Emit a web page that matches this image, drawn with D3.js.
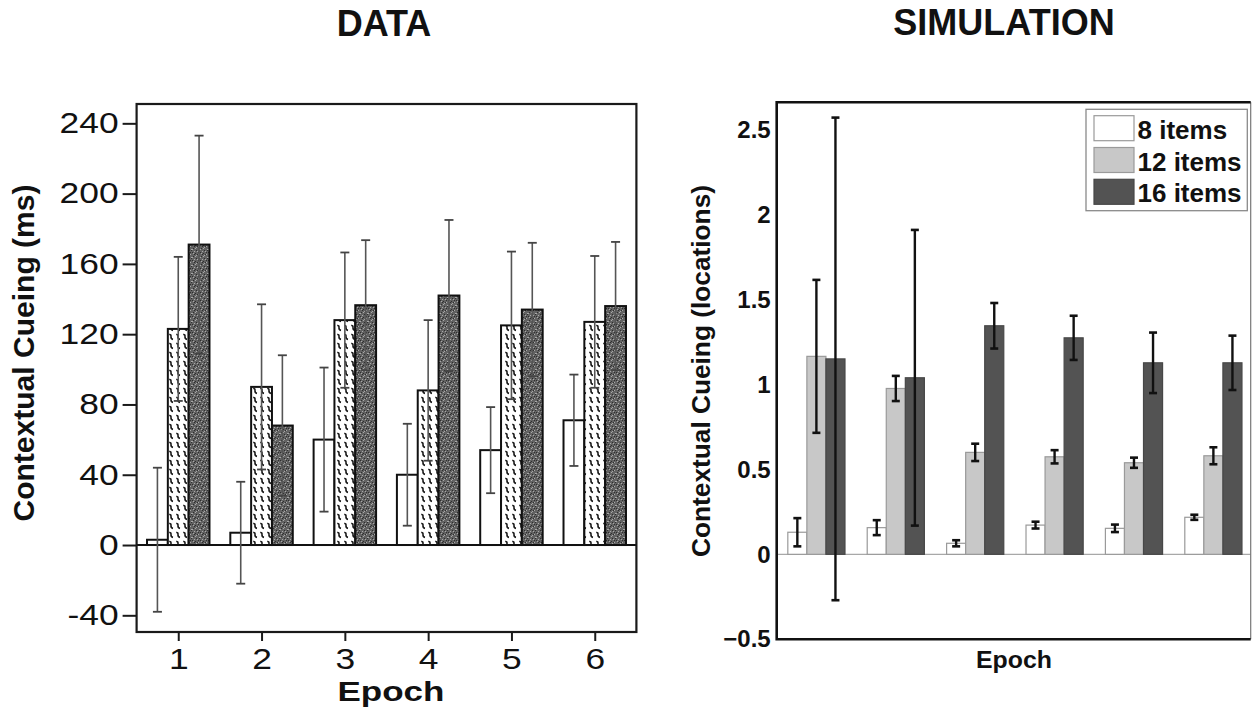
<!DOCTYPE html>
<html>
<head>
<meta charset="utf-8">
<script src="https://cdn.jsdelivr.net/npm/d3@7"></script>
<style>
  html, body { margin: 0; padding: 0; background: #fff; }
  svg { display: block; }
  text { font-family: "Liberation Sans", Arial, Helvetica, sans-serif; fill: #111; }
</style>
</head>
<body>
<svg id="chart" width="1252" height="710"></svg>
<script>
// ---------------- data ----------------
const epochs = [1, 2, 3, 4, 5, 6];
const seriesNames = ["8 items", "12 items", "16 items"];

// DATA panel (ms)
const dataTicks = [-40, 0, 40, 80, 120, 160, 200, 240];
const dataTickLabels = ["-40", "0", "40", "80", "120", "160", "200", "240"];
const data8 = [3, 7, 60, 40, 54, 71];
const data8Err = [41, 29, 41, 29, 24.5, 26];
const data12 = [123, 90, 128, 88, 125, 127];
const data12Err = [41, 47, 38.5, 40, 42, 37.5];
const data16 = [171, 68, 136.5, 142, 134, 136];
const data16Err = [62, 40, 37, 43, 38, 36.5];

// SIMULATION panel (locations)
const simTicks = [-0.5, 0, 0.5, 1, 1.5, 2, 2.5];
const simTickLabels = ["\u22120.5", "0", "0.5", "1", "1.5", "2", "2.5"];
const sim8 = [0.13, 0.157, 0.065, 0.172, 0.153, 0.218];
const sim8Err = [0.083, 0.044, 0.018, 0.02, 0.022, 0.015];
const sim12 = [1.165, 0.976, 0.60, 0.574, 0.539, 0.58];
const sim12Err = [0.45, 0.074, 0.051, 0.039, 0.03, 0.05];
const sim16 = [1.15, 1.039, 1.345, 1.274, 1.127, 1.127];
const sim16Err = [1.42, 0.87, 0.134, 0.13, 0.178, 0.16];

const svg = d3.select("#chart");

function stretch(sel, k) {
  sel.each(function () {
    const L = this.getComputedTextLength();
    this.setAttribute("textLength", L * k);
    this.setAttribute("lengthAdjust", "spacingAndGlyphs");
  });
}

// ---------------- patterns ----------------
const defs = svg.append("defs");
const zig = defs.append("pattern").attr("id", "zig")
  .attr("patternUnits", "userSpaceOnUse").attr("width", 7).attr("height", 9);
zig.append("rect").attr("width", 7).attr("height", 9).attr("fill", "#fff");
zig.append("path").attr("d", "M1.2,1.5 Q3.2,1.2 3,3.6 Q2.8,6 5,6.4")
  .attr("fill", "none").attr("stroke", "#1a1a1a").attr("stroke-width", 1.6);

const stip = defs.append("pattern").attr("id", "stip")
  .attr("patternUnits", "userSpaceOnUse").attr("width", 8).attr("height", 8);
stip.append("rect").attr("width", 8).attr("height", 8).attr("fill", "#626262");
const lightSpecks = [[0,1],[3,0],[5,3],[1,5],[6,6],[2,3],[7,1],[4,7]];
const darkSpecks = [[1,0],[4,2],[6,4],[2,6],[0,4],[5,6],[7,2],[3,5]];
lightSpecks.forEach(p => stip.append("rect").attr("x", p[0]).attr("y", p[1])
  .attr("width", 1).attr("height", 1).attr("fill", "#a8a8a8"));
darkSpecks.forEach(p => stip.append("rect").attr("x", p[0]).attr("y", p[1])
  .attr("width", 1).attr("height", 1).attr("fill", "#2e2e2e"));

// ---------------- titles ----------------
svg.append("text").attr("x", 384).attr("y", 36).attr("text-anchor", "middle")
  .attr("font-size", 36).attr("font-weight", "bold").text("DATA");
svg.append("text").attr("x", 1004).attr("y", 35).attr("text-anchor", "middle")
  .attr("font-size", 36).attr("font-weight", "bold").text("SIMULATION");

// ================= LEFT: DATA =================
const xL = d3.scaleLinear().domain([0.5, 6.5]).range([136.6, 636.4]);
const yL = d3.scaleLinear().domain([-49.5, 251]).range([632, 104]);
const bwL = xL(0.25) - xL(0);
const leftSeries = [
  { vals: data8, errs: data8Err, fill: "#fff" },
  { vals: data12, errs: data12Err, fill: "url(#zig)" },
  { vals: data16, errs: data16Err, fill: "url(#stip)" }
];
const gL = svg.append("g");

leftSeries.forEach((s, si) => {
  gL.selectAll(null).data(epochs).enter().append("rect")
    .attr("x", (e) => xL(e) + (si - 1.5) * bwL)
    .attr("width", bwL)
    .attr("y", (e, i) => yL(Math.max(0, s.vals[i])))
    .attr("height", (e, i) => Math.abs(yL(s.vals[i]) - yL(0)))
    .attr("fill", s.fill).attr("stroke", "#111").attr("stroke-width", 2);
});
// zero line
gL.append("line").attr("x1", xL(0.5)).attr("x2", xL(6.5))
  .attr("y1", yL(0)).attr("y2", yL(0)).attr("stroke", "#111").attr("stroke-width", 2);
// error bars
leftSeries.forEach((s, si) => {
  epochs.forEach((e, i) => {
    const cx = xL(e) + (si - 1) * bwL;
    const y1 = yL(s.vals[i] - s.errs[i]), y2 = yL(s.vals[i] + s.errs[i]);
    gL.append("line").attr("x1", cx).attr("x2", cx).attr("y1", y1).attr("y2", y2)
      .attr("stroke", "#555").attr("stroke-width", 1.6);
    [y1, y2].forEach(y => gL.append("line").attr("x1", cx - 4.5).attr("x2", cx + 4.5)
      .attr("y1", y).attr("y2", y).attr("stroke", "#444").attr("stroke-width", 1.8));
  });
});
// frame
gL.append("rect").attr("x", xL(0.5)).attr("y", yL(251))
  .attr("width", xL(6.5) - xL(0.5)).attr("height", yL(-49.5) - yL(251))
  .attr("fill", "none").attr("stroke", "#1a1a1a").attr("stroke-width", 2.2);

// axes
const axL = gL.append("g").attr("transform", `translate(${xL(0.5)},0)`)
  .call(d3.axisLeft(yL).tickValues(dataTicks).tickSize(14).tickPadding(4)
    .tickFormat((d, i) => dataTickLabels[i]));
axL.select(".domain").remove();
axL.selectAll(".tick line").attr("stroke", "#1a1a1a").attr("stroke-width", 2);
axL.selectAll(".tick text").attr("font-size", 29).attr("font-family", null).attr("fill", "#111");
const axB = gL.append("g").attr("transform", `translate(0,${yL(-49.5)})`)
  .call(d3.axisBottom(xL).tickValues(epochs).tickSize(9).tickPadding(7).tickFormat(d3.format("d")));
axB.select(".domain").remove();
axB.selectAll(".tick line").attr("stroke", "#1a1a1a").attr("stroke-width", 2);
axB.selectAll(".tick text").attr("font-size", 29).attr("font-family", null).attr("fill", "#111");
stretch(axL.selectAll(".tick text"), 1.22);
stretch(axB.selectAll(".tick text"), 1.22);

const epL = gL.append("text").attr("x", 391).attr("y", 701).attr("text-anchor", "middle")
  .attr("font-size", 28).attr("font-weight", "bold").text("Epoch");
stretch(epL, 1.25);
gL.append("text").attr("transform", "translate(33.5,353) rotate(-90)")
  .attr("text-anchor", "middle").attr("font-size", 30).attr("font-weight", "bold")
  .attr("textLength", 337).attr("lengthAdjust", "spacingAndGlyphs")
  .text("Contextual Cueing (ms)");

// ================= RIGHT: SIMULATION =================
const xR = d3.scaleLinear().domain([0.5, 6.47]).range([776.7, 1250.7]);
const yR = d3.scaleLinear().domain([-0.5, 2.66]).range([639.3, 102.3]);
const bwR = xR(0.24) - xR(0);
const rightSeries = [
  { vals: sim8, errs: sim8Err, fill: "#ffffff", stroke: "#9a9a9a" },
  { vals: sim12, errs: sim12Err, fill: "#c8c8c8", stroke: "#9a9a9a" },
  { vals: sim16, errs: sim16Err, fill: "#535353", stroke: "#474747" }
];
const gR = svg.append("g");
gR.append("line").attr("x1", xR(0.5)).attr("x2", xR(6.47))
  .attr("y1", yR(0)).attr("y2", yR(0)).attr("stroke", "#a8a8a8").attr("stroke-width", 1.2);
rightSeries.forEach((s, si) => {
  gR.selectAll(null).data(epochs).enter().append("rect")
    .attr("x", (e) => xR(e) + (si - 1.5) * bwR)
    .attr("width", bwR)
    .attr("y", (e, i) => yR(Math.max(0, s.vals[i])))
    .attr("height", (e, i) => Math.abs(yR(s.vals[i]) - yR(0)))
    .attr("fill", s.fill).attr("stroke", s.stroke).attr("stroke-width", 1.2);
});
rightSeries.forEach((s, si) => {
  epochs.forEach((e, i) => {
    const cx = xR(e) + (si - 1) * bwR;
    const y1 = yR(s.vals[i] - s.errs[i]), y2 = yR(s.vals[i] + s.errs[i]);
    gR.append("line").attr("x1", cx).attr("x2", cx).attr("y1", y1).attr("y2", y2)
      .attr("stroke", "#111").attr("stroke-width", 2.4);
    [y1, y2].forEach(y => gR.append("line").attr("x1", cx - 4).attr("x2", cx + 4)
      .attr("y1", y).attr("y2", y).attr("stroke", "#111").attr("stroke-width", 2.6));
  });
});
// frame
const fx0 = xR(0.5), fx1 = xR(6.47), fy0 = yR(2.66), fy1 = yR(-0.5);
gR.append("line").attr("x1", fx1).attr("x2", fx1).attr("y1", fy0).attr("y2", fy1)
  .attr("stroke", "#777").attr("stroke-width", 1.2);
gR.append("path").attr("d", `M${fx1},${fy0}H${fx0}V${fy1}H${fx1}`)
  .attr("fill", "none").attr("stroke", "#111").attr("stroke-width", 2.6);

const axR = gR.append("g").attr("transform", `translate(${fx0},0)`)
  .call(d3.axisLeft(yR).tickValues(simTicks).tickSize(0).tickPadding(6)
    .tickFormat((d, i) => simTickLabels[i]));
axR.select(".domain").remove();
axR.selectAll(".tick text").attr("font-size", 24).attr("font-weight", "bold")
  .attr("font-family", null).attr("fill", "#111");

gR.append("text").attr("x", 1014).attr("y", 668).attr("text-anchor", "middle")
  .attr("font-size", 24).attr("font-weight", "bold")
  .attr("textLength", 76).attr("lengthAdjust", "spacingAndGlyphs").text("Epoch");
gR.append("text").attr("transform", "translate(709.5,371) rotate(-90)")
  .attr("text-anchor", "middle").attr("font-size", 26).attr("font-weight", "bold")
  .attr("textLength", 372).attr("lengthAdjust", "spacingAndGlyphs")
  .text("Contextual Cueing (locations)");

// legend
const lg = gR.append("g");
lg.append("rect").attr("x", 1086).attr("y", 109.3).attr("width", 161.3).attr("height", 101.4)
  .attr("fill", "#fff").attr("stroke", "#8a8a8a").attr("stroke-width", 1.3);
seriesNames.forEach((n, i) => {
  lg.append("rect").attr("x", 1094).attr("y", 115.7 + i * 31.8).attr("width", 40).attr("height", 25)
    .attr("fill", rightSeries[i].fill).attr("stroke", rightSeries[i].stroke).attr("stroke-width", 1.2);
  lg.append("text").attr("x", 1137.5).attr("y", 139.3 + i * 31.2)
    .attr("font-size", 26).attr("font-weight", "bold").text(n);
});
</script>
</body>
</html>
